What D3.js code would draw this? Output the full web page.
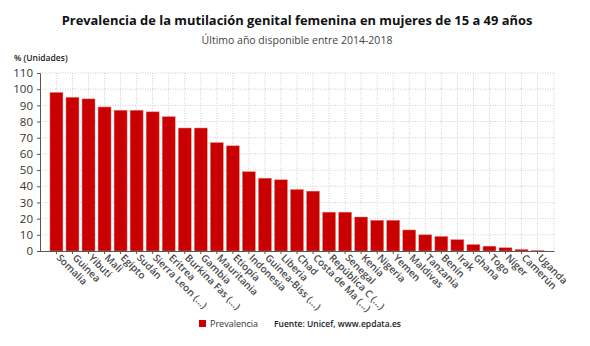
<!DOCTYPE html>
<html><head><meta charset="utf-8">
<script src="https://cdn.jsdelivr.net/npm/d3@7"></script>
<style>body{margin:0;background:#fff;font-family:"Open Sans",sans-serif;}</style>
</head><body>
<svg id="c" width="590" height="346"></svg>
<script>
const categories = ["Somalia","Guinea","Yibuti","Mali","Egipto","Sudán","Sierra Leon (...)","Eritrea","Burkina Fas (...)","Gambia","Mauritania","Etiopía","Indonesia","Guinea-Biss (...)","Liberia","Chad","Costa de Ma (...)","República C (...)","Senegal","Kenia","Nigeria","Yemen","Maldivas","Tanzania","Benín","Irak","Ghana","Togo","Níger","Camerún","Uganda"];
const prevalencia = [98,95,94,89,87,87,86,83,76,76,67,65,49,45,44,38,37,24,24,21,19,19,13,10,9,7,4,3,2,1,0.3];
const yTicks = [0,10,20,30,40,50,60,70,80,90,100,110];

const svg = d3.select("#c");
const L=40,R=554,T=73,B=251;
const x = d3.scaleBand().domain(categories).range([L,R]).paddingInner(0.19).paddingOuter(0.62);
const y = d3.scaleLinear().domain([0,110]).range([B,T]);

// grid
const g = svg.append("g");
g.selectAll(".hg").data(yTicks.slice(1)).enter().append("line")
 .attr("x1",L).attr("x2",R).attr("y1",d=>y(d)).attr("y2",d=>y(d))
 .attr("stroke","#cfcfcf").attr("stroke-dasharray","1,1.5");
g.selectAll(".vg").data(categories).enter().append("line")
 .attr("x1",d=>x(d)+x.bandwidth()/2).attr("x2",d=>x(d)+x.bandwidth()/2).attr("y1",T).attr("y2",B)
 .attr("stroke","#cfcfcf").attr("stroke-dasharray","1,1.5");
g.append("line").attr("x1",R).attr("x2",R).attr("y1",T).attr("y2",B).attr("stroke","#cfcfcf").attr("stroke-dasharray","1,1.5");

// bars
svg.selectAll(".bar").data(prevalencia).enter().append("rect")
 .attr("x",(d,i)=>x(categories[i])).attr("width",x.bandwidth())
 .attr("y",d=>y(d)).attr("height",d=>B-y(d))
 .attr("fill","#c80000").attr("stroke","#e88080").attr("stroke-width",0.5);

// y axis
const ya = svg.append("g").attr("transform",`translate(${L},0)`)
 .call(d3.axisLeft(y).tickValues(yTicks).tickSize(3).tickPadding(4));
ya.select(".domain").attr("stroke","#555");
ya.selectAll(".tick line").attr("stroke","#555");
ya.selectAll("text").attr("font-family","Open Sans").attr("font-size","11.5px").attr("fill","#333");

// x axis
const xa = svg.append("g").attr("transform",`translate(0,${B})`)
 .call(d3.axisBottom(x).tickSize(3).tickSizeOuter(0));
xa.select(".domain").attr("stroke","#555");
xa.selectAll(".tick line").attr("stroke","#555");
xa.selectAll("text").attr("font-family","Open Sans").attr("font-size","10px").attr("font-weight","600").attr("fill","#4a4a4a")
 .attr("text-anchor","start").attr("x",0).attr("y",0).attr("dy","0.35em")
 .attr("transform","translate(2,5) rotate(45)");

// titles
svg.append("text").attr("x",297).attr("y",25).attr("text-anchor","middle")
 .attr("font-family","Open Sans").attr("font-weight","700").attr("font-size","12.9px").attr("fill","#111")
 .text("Prevalencia de la mutilación genital femenina en mujeres de 15 a 49 años");
svg.append("text").attr("x",297).attr("y",44).attr("text-anchor","middle")
 .attr("font-family","Open Sans").attr("font-size","10.5px").attr("fill","#444")
 .text("Último año disponible entre 2014-2018");
svg.append("text").attr("x",14).attr("y",61)
 .attr("font-family","Open Sans").attr("font-weight","600").attr("font-size","8.5px").attr("fill","#222")
 .text("% (Unidades)");

// legend
svg.append("rect").attr("x",199).attr("y",320).attr("width",7).attr("height",7).attr("fill","#c80000");
svg.append("text").attr("x",210).attr("y",327).attr("font-family","Open Sans").attr("font-size","9px").attr("fill","#333").text("Prevalencia");
svg.append("text").attr("x",274).attr("y",327).attr("font-family","Open Sans").attr("font-weight","600").attr("font-size","8.5px").attr("fill","#222").text("Fuente: Unicef, www.epdata.es");
</script>
</body></html>
